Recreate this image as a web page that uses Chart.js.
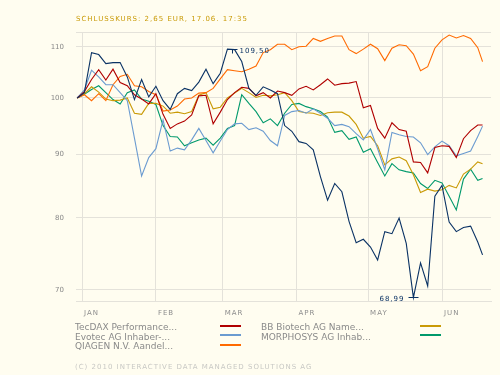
<!DOCTYPE html>
<html>
<head>
<meta charset="utf-8">
<script src="https://cdn.jsdelivr.net/npm/chart.js@4.4.0/dist/chart.umd.min.js"></script>
<style>
  body { margin: 0; background: #fffdf0; }
  #wrap { position: relative; width: 500px; height: 375px; overflow: hidden; background: #fffdf0; }
  #chart { position: absolute; left: 0; top: 0; }
  .caps { position: absolute; font-family: "DejaVu Sans"; font-size: 7px; line-height: 7px; letter-spacing: 1px; white-space: nowrap; }
  #title { left: 76px; top: 16px; color: #c99a06; }
  #footer { left: 75px; top: 364px; color: #c8c8c4; }
  .legend-text { position: absolute; font-family: "DejaVu Sans"; font-size: 9px; line-height: 10px; color: #8a8a8a; white-space: nowrap; }
  .swatch { position: absolute; width: 21px; height: 2px; }
</style>
</head>
<body>
<div id="wrap">
  <canvas id="chart" width="500" height="375"></canvas>
  <div id="title" class="caps">SCHLUSSKURS: 2,65 EUR, 17.06. 17:35</div>
  <div id="legend"></div>
  <div id="footer" class="caps">(C) 2010 INTERACTIVE DATA MANAGED SOLUTIONS AG</div>
</div>
<script>
// days counted from 1 Jan 2010
const monthStarts = [0, 31, 59, 90, 120, 151];
const monthLabels = ['JAN', 'FEB', 'MAR', 'APR', 'MAY', 'JUN'];
const yTicks = [70, 80, 90, 100, 110];

const days = [-2, 1, 4, 7, 10, 13, 16, 19, 22, 25, 28, 31, 34, 37, 40, 43, 46, 49, 52, 55,
    58, 61, 64, 67, 70, 73, 76, 79, 82, 85, 88, 91, 94, 97, 100, 103, 106, 109, 112, 115,
    118, 121, 124, 127, 130, 133, 136, 139, 142, 145, 148, 151, 154, 157, 160, 163, 166, 168];

const stockValues = [100, 101, 108.8, 108.4, 106.6, 106.8, 106.8, 104, 99.7, 103.5,
    100.2, 102.2, 99.5, 97.9, 100.8, 101.8, 101.4, 103, 105.5, 102.7,
    104.7, 109.5, 109.4, 107, 101.8, 100.5, 102.1, 101.5, 100.8, 95,
    94, 92.2, 91.9, 90.8, 86.4, 82.7, 85.3, 84, 79.5, 76.4,
    76.9, 75.8, 74, 78, 77.7, 80, 76.3, 68.99, 73.6, 70.5,
    83.3, 85, 79.4, 78, 78.6, 78.8, 76.5, 74.7];
const tecdaxValues = [100, 101.2, 103.5, 105.4, 103.4, 105.5, 102.9, 102.3, 100.6, 99.8,
    98.9, 100.8, 97, 94.5, 95.3, 95.8, 96.9, 100.4, 100.5, 95.3,
    97.4, 99.7, 101, 102, 101.8, 100.4, 101, 100, 101.3, 101,
    100.5, 101.7, 102.2, 101.5, 102.5, 103.6, 102.4, 102.7, 102.8, 103.1,
    98.2, 98.6, 94.5, 92.8, 95.5, 94.3, 94, 88.8, 88.7, 87,
    91.2, 91.5, 91.4, 89.5, 92.7, 94.1, 95.1, 95.1];
const evotecValues = [100, 101.5, 105.3, 104, 102.5, 102.5, 101, 99.5, 92.8, 86.5,
    89.5, 91, 96, 90.6, 91.1, 90.8, 92.5, 94.5, 92.4, 90.3,
    92.3, 94.3, 95.3, 95.4, 94.3, 94.6, 94, 92.4, 91.5, 96.8,
    97.5, 97.7, 97.2, 98, 97.2, 96.3, 95, 95.2, 94.8, 93.6,
    92.5, 94.3, 91, 87.5, 93.8, 93.4, 93.1, 93, 92, 90,
    91.3, 92.3, 91.5, 89.8, 90.2, 90.6, 93.1, 94.9];
const qiagenValues = [100, 100.6, 99.5, 100.8, 99.5, 102.5, 104.1, 104.5, 102.3, 102.1,
    101.2, 100.6, 97.6, 97.8, 98.5, 99.8, 100, 100.9, 101, 101.8,
    103.6, 105.4, 105.2, 105, 105.5, 106.1, 108.8, 109.4, 110.5, 110.5,
    109.4, 110, 110.1, 111.7, 111.1, 111.7, 112.2, 112.2, 109.4, 108.6,
    109.5, 110.5, 109.6, 107.2, 109.7, 110.4, 110.2, 108.5, 105.2, 106,
    109.7, 111.4, 112.4, 111.8, 112.3, 111.7, 109.8, 107];
const bbBiotechValues = [100, 100.8, 102.1, 101.1, 99.8, 99.5, 99.6, 100, 97.2, 97,
    99, 99, 98.5, 97.2, 97.4, 97.1, 97.5, 100.5, 101, 98,
    98.3, 100, 100.9, 101.8, 101, 100.1, 100.5, 100.4, 100.6, 101,
    99.5, 97.5, 97.3, 97.2, 96.8, 97.3, 97.4, 97.4, 96.7, 95.2,
    92.8, 93.1, 91.5, 88.3, 89.3, 89.6, 89, 86.7, 83.9, 84.4,
    84.1, 84.3, 85, 84.6, 86.8, 87.6, 88.8, 88.5];
const morphosysValues = [100, 100.7, 101.6, 102.3, 101, 99.7, 98.9, 101, 101.5, 99.8,
    99.4, 98.8, 95, 93.1, 93, 91.5, 92, 92.5, 92.8, 91.6,
    92.8, 94.5, 95, 100.6, 99, 97.5, 95.5, 96.2, 95, 97.2,
    98.8, 99, 98.4, 98, 97.5, 96.5, 93.8, 94.1, 92.6, 93,
    90.4, 91, 88.7, 86.5, 88.5, 87.5, 87.2, 87, 85.3, 84.5,
    85.8, 85.4, 83.3, 81.2, 86, 87.6, 85.8, 86.1];

const legendNames = ['TecDAX Performance...', 'Evotec AG Inhaber-...', 'QIAGEN N.V. Aandel...',
    'BB Biotech AG Name...', 'MORPHOSYS AG Inhab...'];
const legendColors = ['#b00000', '#6b9bd0', '#ff6a00', '#c99a06', '#00996b'];
const legendValues = [tecdaxValues, evotecValues, qiagenValues, bbBiotechValues, morphosysValues];
const stockColor = '#0a3264';

// high / low markers of the stock
const markDays = [63, 139];
const markValues = [109.5, 68.99];
const markLabels = ['109,50', '68,99'];

function toPoints(values) {
    return values.map((v, i) => ({ x: days[i], y: v }));
}

const datasets = [{
    data: toPoints(stockValues),
    borderColor: stockColor
}];
legendValues.forEach((vals, i) => {
    datasets.push({ data: toPoints(vals), borderColor: legendColors[i] });
});

const markerPlugin = {
    id: 'markers',
    afterDatasetsDraw(chart) {
        const { ctx, scales: { x, y } } = chart;
        ctx.save();
        ctx.strokeStyle = stockColor;
        ctx.fillStyle = stockColor;
        ctx.lineWidth = 1;
        ctx.font = '7px "DejaVu Sans"';
        ctx.letterSpacing = '1px';
        ctx.textBaseline = 'middle';
        markDays.forEach((d, i) => {
            const px = Math.round(x.getPixelForValue(d)) + 0.5;
            const py = Math.round(y.getPixelForValue(markValues[i])) + 0.5;
            const isHigh = markValues[i] > 100;
            const barY = isHigh ? py : py - 1;
            ctx.beginPath();
            ctx.moveTo(px - 5, barY);
            ctx.lineTo(px + 5, barY);
            ctx.moveTo(px, barY);
            ctx.lineTo(px, barY + (isHigh ? 4 : -4));
            ctx.stroke();
            if (isHigh) {
                ctx.textAlign = 'left';
                ctx.fillText(markLabels[i], px + 7, py + 1.5);
            } else {
                ctx.textAlign = 'right';
                ctx.fillText(markLabels[i], px - 9, py + 1);
            }
        });
        ctx.restore();
    },
    afterDraw(chart) {
        // month labels sit just right of their grid line
        const { ctx, scales: { x } } = chart;
        ctx.save();
        ctx.font = '7px "DejaVu Sans"';
        ctx.letterSpacing = '1px';
        ctx.fillStyle = '#8c8c8c';
        ctx.textAlign = 'left';
        ctx.textBaseline = 'middle';
        monthStarts.forEach((m, i) => {
            ctx.fillText(monthLabels[i], x.getPixelForValue(m) + 2, x.top + 12);
        });
        ctx.restore();
    }
};

const ctx = document.getElementById('chart').getContext('2d');
const yMax = 113.05;
new Chart(ctx, {
    type: 'line',
    data: { datasets: datasets },
    options: {
        responsive: false,
        animation: false,
        layout: { padding: { top: 32, right: 9, bottom: 0, left: 0 } },
        elements: {
            line: { borderWidth: 1.1, tension: 0 },
            point: { radius: 0 }
        },
        plugins: { legend: { display: false }, tooltip: { enabled: false } },
        scales: {
            x: {
                type: 'linear',
                min: -2.517,
                max: 171.55,
                afterBuildTicks: (scale) => { scale.ticks = monthStarts.map(v => ({ value: v })); },
                afterFit: (scale) => { scale.height = 74; },
                ticks: { display: false },
                grid: { color: '#e4e2da', drawTicks: false },
                border: { color: '#e4e2da' }
            },
            y: {
                type: 'logarithmic',
                min: 68.56,
                max: yMax,
                afterBuildTicks: (scale) => {
                    scale.ticks = yTicks.concat([yMax]).map(v => ({ value: v }));
                },
                afterFit: (scale) => { scale.width = 76; },
                ticks: {
                    padding: 12,
                    color: '#888888',
                    font: { family: 'DejaVu Sans', size: 7 },
                    callback: (v) => (v === yMax ? '' : String(v))
                },
                grid: { color: '#e4e2da', drawTicks: false },
                border: { display: false }
            }
        }
    },
    plugins: [markerPlugin]
});

// legend in two columns, line swatch right of each name
const legend = document.getElementById('legend');
const colX = [75, 261];
const swatchX = [220, 420];
const rowTop = [322, 331.6, 341.2];
legendNames.forEach((name, i) => {
    const col = i < 3 ? 0 : 1;
    const row = i < 3 ? i : i - 3;
    const t = document.createElement('div');
    t.className = 'legend-text';
    t.textContent = name;
    t.style.left = colX[col] + 'px';
    t.style.top = rowTop[row] + 'px';
    legend.appendChild(t);
    const s = document.createElement('div');
    s.className = 'swatch';
    s.style.background = legendColors[i];
    s.style.left = swatchX[col] + 'px';
    s.style.top = (rowTop[row] + 2.5) + 'px';
    legend.appendChild(s);
});
</script>
</body>
</html>
